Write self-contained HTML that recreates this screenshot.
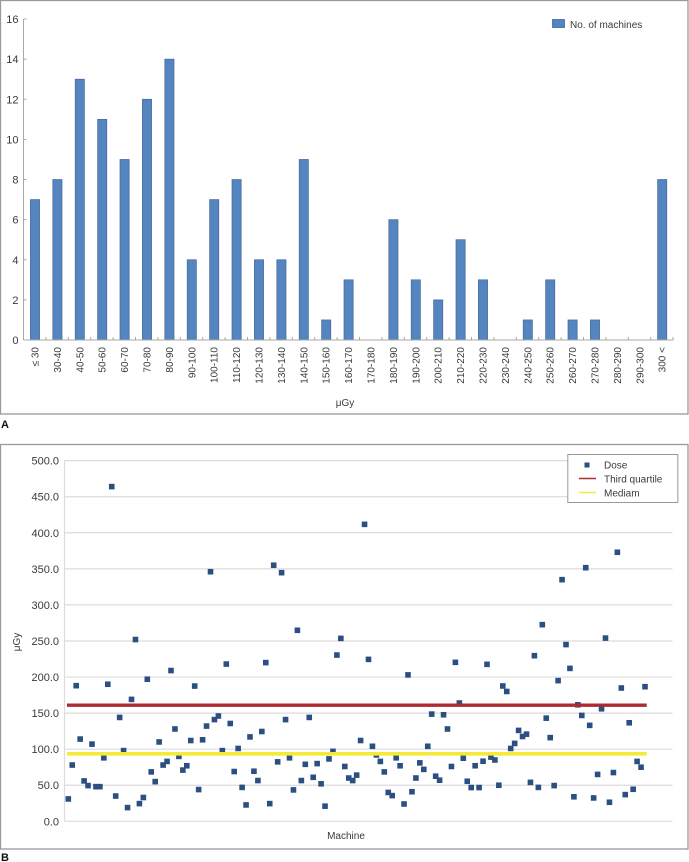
<!DOCTYPE html>
<html lang="en">
<head>
<meta charset="utf-8">
<title>Machine dose charts</title>
<style>
html,body{margin:0;padding:0;background:#fff;}
svg{display:block;font-family:"Liberation Sans",sans-serif;fill:#3a3a3a;}
text{font-size:10px;}
</style>
</head>
<body>
<svg id="fig" width="689" height="862" viewBox="0 0 689 862" xmlns="http://www.w3.org/2000/svg">
  <rect x="0" y="0" width="689" height="862" fill="#fff"/>
  <rect x="0.5" y="0.5" width="687.5" height="413.5" fill="#fff" stroke="#999" stroke-width="1.3"/>
  <rect x="0.5" y="444.5" width="687.5" height="404.5" fill="#fff" stroke="#999" stroke-width="1.3"/>
  <g id="chartA"></g>
  <g id="chartB"></g>

  <text x="345" y="406" text-anchor="middle">μGy</text>
  <text x="1" y="428" style="font-size:11px;font-weight:bold;fill:#111">A</text>
  <text x="1" y="861" style="font-size:11px;font-weight:bold;fill:#111">B</text>
  <text x="346" y="839" text-anchor="middle">Machine</text>
  <text transform="translate(20,642) rotate(-90)" text-anchor="middle">μGy</text>

  <g>
    <rect x="552.5" y="19.5" width="12" height="8" fill="#5585c0" stroke="#41669a" stroke-width="0.8"/>
    <text x="570" y="28">No. of machines</text>
  </g>
  <g>
    <rect x="567.8" y="454.5" width="110" height="48" fill="#fff" stroke="#999" stroke-width="1"/>
    <rect x="584.5" y="462.5" width="5" height="5" fill="#2b4f81"/>
    <text x="604" y="468.5">Dose</text>
    <line x1="579" x2="596" y1="478.5" y2="478.5" stroke="#b02a30" stroke-width="1.6"/>
    <text x="604" y="482.5">Third quartile</text>
    <line x1="579" x2="596" y1="492.5" y2="492.5" stroke="#f2ea3c" stroke-width="1.6"/>
    <text x="604" y="496.5">Mediam</text>
  </g>
</svg>
<script>
var NS = 'http://www.w3.org/2000/svg';

var barCategories = ['≤ 30','30-40','40-50','50-60','60-70','70-80','80-90','90-100','100-110','110-120','120-130','130-140','140-150','150-160','160-170','170-180','180-190','190-200','200-210','210-220','220-230','230-240','240-250','250-260','260-270','270-280','280-290','290-300','300 <'];
var barValues = [7,8,13,11,9,12,14,4,7,8,4,4,9,1,3,0,6,3,2,5,3,0,1,3,1,1,0,0,8];
var barTicks = [0,2,4,6,8,10,12,14,16];

var doseValues = [31,78,188,114,56,49.5,107,48,48,88,190,464,35,144,98,19,169,252,24.5,33,197,68.5,55,110,78,83,209,128,90,71,77,112,187.5,44,113,132,346,141,146,98,218,135.6,69,101,47,22.7,117,69.4,56.5,124.5,220,24.5,355,82.4,344.7,141,88,43.5,264.8,56.5,79,144,61,80,52,21,86.5,97,230.5,253.6,76,60,56.5,64,112,411.7,224.5,104,92,83,68.5,40,35.6,88,77,24,203,41,60,81,72,104,148.6,62.5,57,147.7,128,76,220.4,164,87.5,55.5,46.8,77,46.8,83.3,217.6,89,85,50,187.6,180,101,108,126,117.6,120.8,54,229.6,47,272.6,143,116,49.5,195,335,245,212,34,161.5,146.8,351.6,133,32.4,65,156,254,26.4,67.6,373,184.8,37,136.6,44.4,83,75,186.6];
var thirdQuartile = [161];
var median = [93.5];
var doseTicks = [0,50,100,150,200,250,300,350,400,450,500];

function make(tag, attrs, parent, txt) {
  var el = document.createElementNS(NS, tag);
  for (var k in attrs) { el.setAttribute(k, attrs[k]); }
  if (txt !== undefined) { el.textContent = txt; }
  parent.appendChild(el);
  return el;
}

/* Panel A axes */
var aLeft = 23.5, aStep = 22.4, aBase = 340, aUnit = 20.06;
function ax(i) { return aLeft + 0.3 + aStep * (i + 0.5); }
function ay(v) { return aBase - v * aUnit; }

var chartA = document.getElementById('chartA');
var axisAy = make('line', {x1:aLeft, x2:aLeft, y1:ay(16), y2:aBase, stroke:'#a8a8a8', 'stroke-width':1}, chartA);



barTicks.forEach(function (t) {
  var tick = make('line', {x1:aLeft, x2:aLeft + 3, y1:ay(t), y2:ay(t), stroke:'#a8a8a8', 'stroke-width':1}, chartA);
  
  
  var lab = make('text', {x:18.5, y:ay(t) + 4, 'text-anchor':'end', style:'font-size:11px'}, chartA, String(t));
  
  
});

barValues.forEach(function (v, i) {
  if (v > 0) {
    var bar = make('rect', {x:ax(i) - 4.6, y:ay(v), width:9.2, height:aBase - ay(v), fill:'#5585c0', stroke:'#46699b', 'stroke-width':0.7}, chartA);
    
    
  }
});

var axisAx = make('line', {x1:aLeft, x2:aLeft + aStep * barCategories.length, y1:aBase, y2:aBase, stroke:'#a8a8a8', 'stroke-width':1}, chartA);



barCategories.forEach(function (c, i) {
  var tx = aLeft + aStep * (i + 1);
  var tick = make('line', {x1:tx, x2:tx, y1:aBase - 3, y2:aBase, stroke:'#b0a898', 'stroke-width':1}, chartA);
  
  
  var lab = make('text', {transform:'translate(' + (ax(i) + 3.5) + ',347) rotate(-90)', 'text-anchor':'end'}, chartA, c);
  
  
});

/* Panel B axes */
var bLeft = 64.5, bRight = 672.5, bBase = 821.3, bUnit = 0.7213, bFirst = 68.3, bStep = 3.95;
function bx(i) { return bFirst + bStep * i; }
function by(v) { return bBase - v * bUnit; }

var chartB = document.getElementById('chartB');
doseTicks.forEach(function (t) {
  var grid = make('line', {x1:bLeft, x2:bRight, y1:by(t), y2:by(t), stroke:'#dcdcdc', 'stroke-width':1.2}, chartB);
  
  
  var lab = make('text', {x:59, y:by(t) + 4, 'text-anchor':'end', style:'font-size:11px'}, chartB, t.toFixed(1));
  
  
});
var axisBy = make('line', {x1:bLeft, x2:bLeft, y1:by(500), y2:by(0), stroke:'#dcdcdc', 'stroke-width':1.2}, chartB);



doseValues.forEach(function (v, i) {
  var pt = make('rect', {x:bx(i) - 2.8, y:by(v) - 2.8, width:5.6, height:5.6, fill:'#2b4f81'}, chartB);
  
  
});

var xStart = bx(0) - 1.3, xEnd = bx(doseValues.length - 1) + 1.7;
var q3 = make('line', {x1:xStart, x2:xEnd, y1:by(thirdQuartile[0]), y2:by(thirdQuartile[0]), stroke:'#ad2a30', 'stroke-width':3.4}, chartB);


var med = make('line', {x1:xStart, x2:xEnd, y1:by(median[0]), y2:by(median[0]), stroke:'#f3ea3a', 'stroke-width':3.6}, chartB);


</script>
</body>
</html>
